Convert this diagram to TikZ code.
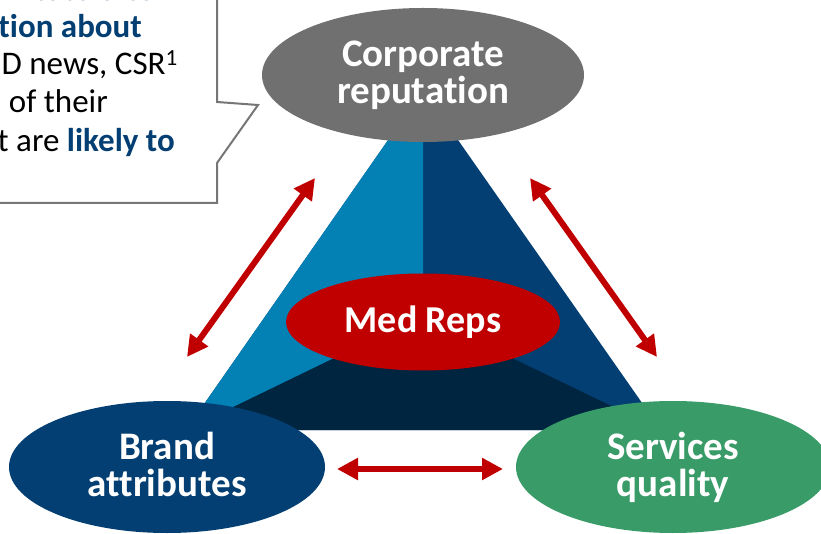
\documentclass[tikz,border=0pt]{standalone}
\usepackage{fontspec}
\setmainfont{Carlito}[Ligatures=NoCommon]
\usepackage{tikz}
\usetikzlibrary{arrows.meta, positioning, shapes.geometric}

\definecolor{corpgrey}{RGB}{112,112,112}
\definecolor{sideblue}{RGB}{3,128,180}
\definecolor{deepblue}{RGB}{3,63,114}
\definecolor{navyblue}{RGB}{0,37,64}
\definecolor{repred}{RGB}{192,0,0}
\definecolor{servgreen}{RGB}{56,155,104}
\definecolor{boxgrey}{RGB}{118,118,118}

\newcommand{\keyword}[1]{{\bfseries\color{deepblue}#1}}

\begin{document}
\begin{tikzpicture}[
				x=1pt, y=-1pt,
				pillar/.style={ellipse, inner sep=0pt, text=white, align=center, font=\fontsize{39}{37}\selectfont\bfseries},
				link/.style={{Triangle[length=21pt, width=21pt]}-{Triangle[length=21pt, width=21pt]}, line width=6pt, draw=repred},
				note/.style={anchor=base east, inner sep=0pt, font=\fontsize{33}{38}\selectfont}
				]
				\useasboundingbox (0,0) rectangle (821,534);
				\clip (0,0) rectangle (821,534);
				
				% pyramid
				\coordinate (apex) at (423,90);
				\coordinate (baseL) at (186,430);
				\coordinate (baseR) at (661,430);
				\coordinate (mid) at (423,315);
				\fill[deepblue] (apex) -- (baseR) -- (baseL) -- cycle;
				\fill[sideblue] (apex) -- (mid) -- (baseL) -- cycle;
				\fill[navyblue] (baseL) -- (mid) -- (baseR) -- cycle;
				
				% callout
				\draw[boxgrey, line width=2pt, fill=white] (-5,-5) -- (217,-5) -- (217,102) -- (258,105) -- (217,163) -- (217,203) -- (-5,203) -- cycle;
				\node[note, font=\fontsize{33}{38}\selectfont\bfseries, text=deepblue] (line1) at (172,1) {unicate often};
				\node[note] (line2) at (142,37.5) {\keyword{tion about}};
				\node[note] (line3) at (178,75) {D news, CSR\textsuperscript{1}};
				\node[note] (line4) at (108,113) {of their};
				\node[note] (line5) at (175,152) {t are \keyword{likely to}};
				
				% ellipses
				\node[pillar, fill=corpgrey, minimum width=322pt, minimum height=134pt] (corp) at (423,75) {Corporate\\reputation};
				\node[pillar, fill=repred, minimum width=274pt, minimum height=97pt, font=\fontsize{38}{37}\selectfont\bfseries] (reps) at (423,322) {Med Reps};
				\node[pillar, fill=deepblue, minimum width=316pt, minimum height=132pt] (brand) at (167,467) {Brand\\attributes\vphantom{y}};
				\node[pillar, fill=servgreen, minimum width=314pt, minimum height=132pt] (serv) at (673,467) {Services\\quality};
				
				% arrows
				\coordinate (brandTip) at (187,357);
				\coordinate (corpTipL) at (315,178);
				\coordinate (corpTipR) at (530,178);
				\coordinate (servTip) at (657,357);
				\coordinate (brandTipB) at (337,469);
				\coordinate (servTipB) at (503,469);
				
				\draw[link] (brandTip) -- (corpTipL);
				\draw[link] (corpTipR) -- (servTip);
				\draw[link] (brandTipB) -- (servTipB);
				
\end{tikzpicture}
\end{document}
